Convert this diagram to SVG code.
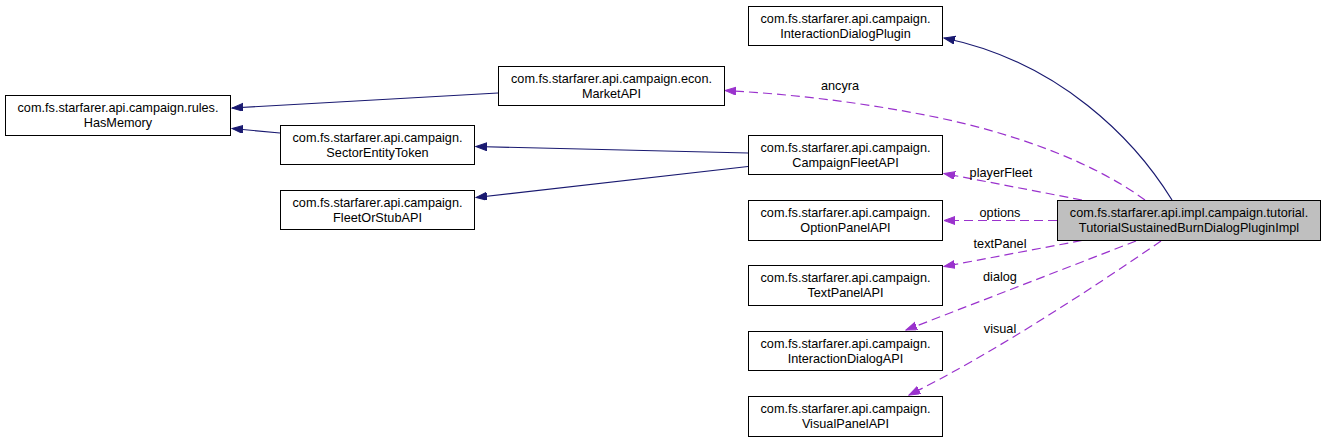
<svg xmlns="http://www.w3.org/2000/svg" width="1325" height="443" viewBox="0 0 1325 443">
<style>
.box{fill:#ffffff;stroke:#000000;stroke-width:1}
.main{fill:#bfbfbf;stroke:#000000;stroke-width:1}
text{font-family:"Liberation Sans",Arial,sans-serif;font-size:12.7px;fill:#000000;text-anchor:middle}
.inh{fill:none;stroke:#191970;stroke-width:1.2;marker-end:url(#an)}
.use{fill:none;stroke:#9a32cd;stroke-width:1.2;stroke-dasharray:9,5;marker-end:url(#ap)}
</style>
<defs>
<marker id="an" markerUnits="userSpaceOnUse" markerWidth="12" markerHeight="9" refX="11" refY="4" orient="auto" viewBox="0 0 12 9">
<path d="M0,0 L11,4 L0,8 z" fill="#191970" stroke="#191970"/>
</marker>
<marker id="ap" markerUnits="userSpaceOnUse" markerWidth="12" markerHeight="9" refX="11" refY="4" orient="auto" viewBox="0 0 12 9">
<path d="M0,0 L11,4 L0,8 z" fill="#9a32cd" stroke="#9a32cd"/>
</marker>
</defs>
<rect width="1325" height="443" fill="#ffffff"/>
<g id="connectors">
<path class="inh" d="M498,93 L232,108"/>
<path class="inh" d="M280,133 L232,128.5"/>
<path class="inh" d="M748,153 L476,146.5"/>
<path class="inh" d="M748,166.5 L476,197.5"/>
<path class="inh" d="M1172,200 C1135,140 1060,62 944,38"/>
<path class="use" d="M1145,200 C1090,160 1010,132 930,116 C860,102 790,94 725,90.5"/>
<text x="840" y="90">ancyra</text>
<path class="use" d="M1082,200 L944,173.5"/>
<text x="1001" y="177">playerFleet</text>
<path class="use" d="M1057,220.5 L944,220.5"/>
<text x="1000" y="217">options</text>
<path class="use" d="M1082,240.5 L944,266.5"/>
<text x="1000" y="248">textPanel</text>
<path class="use" d="M1136,241 L906,330"/>
<text x="1000" y="281">dialog</text>
<path class="use" d="M1161,241 C1090,290 990,355 909,395"/>
<text x="1000" y="333">visual</text>
</g>
<g id="HasMemory">
<rect class="box" x="5.5" y="95.5" width="225" height="40"/>
<text x="118" y="112">com.fs.starfarer.api.campaign.rules.</text>
<text x="118" y="127">HasMemory</text>
</g>
<g id="SectorEntityToken">
<rect class="box" x="280.5" y="125.5" width="194" height="39"/>
<text x="377.5" y="142">com.fs.starfarer.api.campaign.</text>
<text x="377.5" y="157">SectorEntityToken</text>
</g>
<g id="FleetOrStubAPI">
<rect class="box" x="280.5" y="190.5" width="194" height="39"/>
<text x="377.5" y="207">com.fs.starfarer.api.campaign.</text>
<text x="377.5" y="222">FleetOrStubAPI</text>
</g>
<g id="MarketAPI">
<rect class="box" x="498.5" y="66.5" width="226" height="39"/>
<text x="611.5" y="83">com.fs.starfarer.api.campaign.econ.</text>
<text x="611.5" y="98">MarketAPI</text>
</g>
<g id="InteractionDialogPlugin">
<rect class="box" x="748.5" y="6.5" width="194" height="39"/>
<text x="845.5" y="23">com.fs.starfarer.api.campaign.</text>
<text x="845.5" y="38">InteractionDialogPlugin</text>
</g>
<g id="CampaignFleetAPI">
<rect class="box" x="748.5" y="135.5" width="194" height="39"/>
<text x="845.5" y="152">com.fs.starfarer.api.campaign.</text>
<text x="845.5" y="167">CampaignFleetAPI</text>
</g>
<g id="OptionPanelAPI">
<rect class="box" x="748.5" y="200.5" width="194" height="40"/>
<text x="845.5" y="217">com.fs.starfarer.api.campaign.</text>
<text x="845.5" y="232">OptionPanelAPI</text>
</g>
<g id="TextPanelAPI">
<rect class="box" x="748.5" y="265.5" width="194" height="40"/>
<text x="845.5" y="282">com.fs.starfarer.api.campaign.</text>
<text x="845.5" y="297">TextPanelAPI</text>
</g>
<g id="InteractionDialogAPI">
<rect class="box" x="748.5" y="331.5" width="194" height="39"/>
<text x="845.5" y="348">com.fs.starfarer.api.campaign.</text>
<text x="845.5" y="363">InteractionDialogAPI</text>
</g>
<g id="VisualPanelAPI">
<rect class="box" x="748.5" y="396.5" width="194" height="40"/>
<text x="845.5" y="413">com.fs.starfarer.api.campaign.</text>
<text x="845.5" y="428">VisualPanelAPI</text>
</g>
<g id="TutorialSustainedBurnDialogPluginImpl">
<rect class="main" x="1057.5" y="200.5" width="263" height="40"/>
<text x="1189" y="217">com.fs.starfarer.api.impl.campaign.tutorial.</text>
<text x="1189" y="232">TutorialSustainedBurnDialogPluginImpl</text>
</g>
</svg>
